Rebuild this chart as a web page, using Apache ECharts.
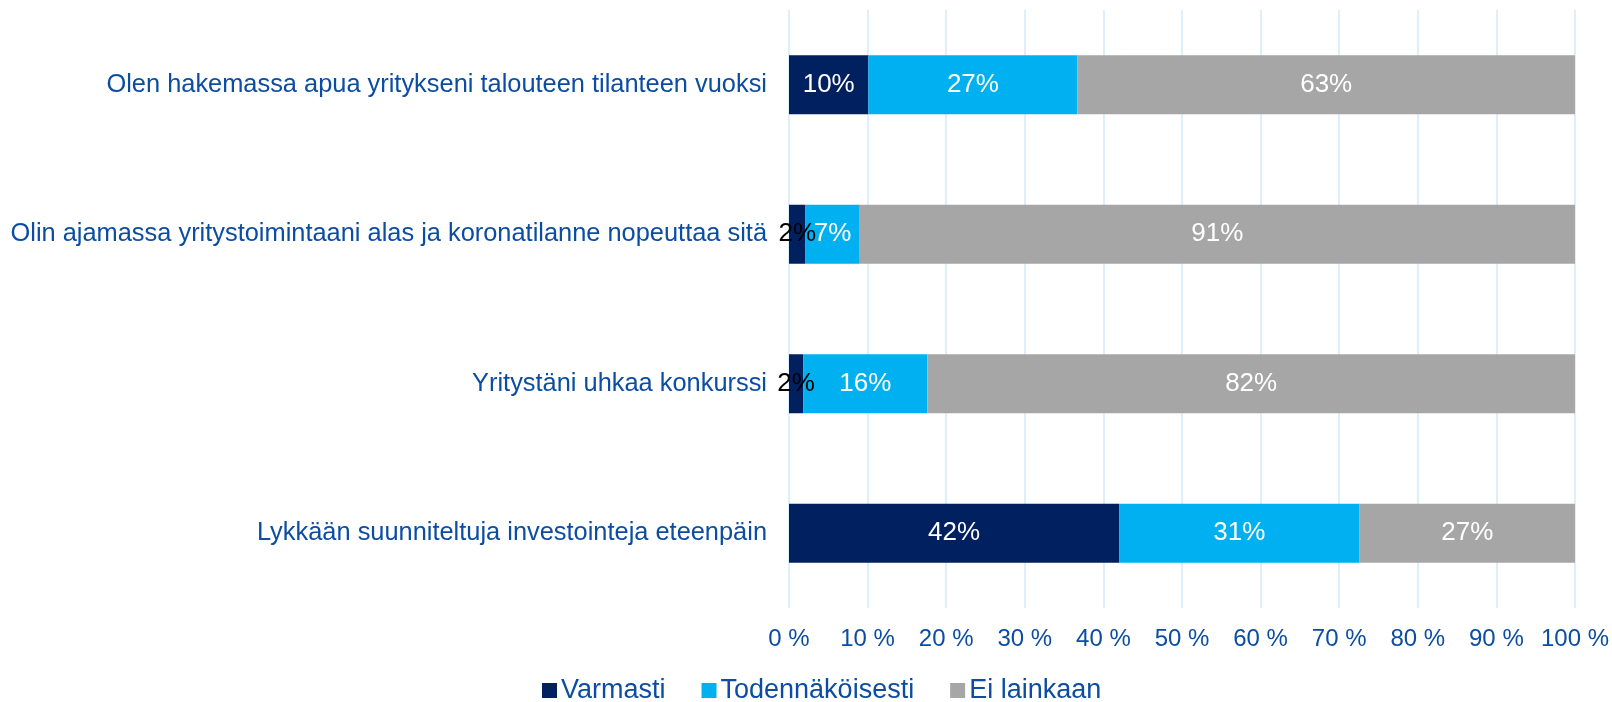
<!DOCTYPE html>
<html>
<head>
    <meta charset="utf-8">
    <title>ECharts</title>
    <script src="https://cdnjs.cloudflare.com/ajax/libs/echarts/6.0.0/echarts.min.js"></script>
    <style>
        html, body { margin: 0; padding: 0; background: #fff; }
    </style>
</head>
<body>
<div id="main" style="width: 1612px;height:702px;"></div>
<script type="text/javascript">
    // categories, top to bottom
    var categories = [
        'Olen hakemassa apua yritykseni talouteen tilanteen vuoksi',
        'Olin ajamassa yritystoimintaani alas ja koronatilanne nopeuttaa sitä',
        'Yritystäni uhkaa konkurssi',
        'Lykkään suunniteltuja investointeja eteenpäin'
    ];
    var seriesNames = ['Varmasti', 'Todennäköisesti', 'Ei lainkaan'];
    var varmasti = [10.1, 2.1, 1.8, 42.0];
    var todennakoisesti = [26.6, 6.9, 15.8, 30.6];
    var eiLainkaan = [63.3, 91.0, 82.4, 27.4];
    var xTicks = [0, 10, 20, 30, 40, 50, 60, 70, 80, 90, 100];

    var colors = ['#002060', '#00B0F0', '#A6A6A6'];
    var textBlue = '#0B4DA2';
    var font = 'Liberation Sans, Arial, sans-serif';

    function makeData(values) {
        return values.map(function (v) {
            return {
                value: v,
                label: { color: v < 5 ? '#000000' : '#ffffff' }
            };
        });
    }

    function makeSeries(name, values, color) {
        return {
            name: name,
            type: 'bar',
            stack: 'total',
            barWidth: 59,
            itemStyle: { color: color },
            label: {
                show: true,
                position: 'inside',
                fontFamily: font,
                fontSize: 26,
                formatter: function (p) { return Math.round(p.value) + '%'; }
            },
            data: makeData(values)
        };
    }

    var myChart = echarts.init(document.getElementById('main'));

    var option = {
        animation: false,
        textStyle: { fontFamily: font },
        legend: {
            data: seriesNames,
            top: 677,
            left: 542,
            padding: 0,
            itemWidth: 15,
            itemHeight: 15,
            itemGap: 36,
            icon: 'rect',
            textStyle: { color: textBlue, fontSize: 27, fontFamily: font, padding: [0, 0, 0, -1] }
        },
        grid: {
            left: 789,
            right: 37,
            top: 10,
            bottom: 94,
            containLabel: false
        },
        xAxis: {
            type: 'value',
            min: xTicks[0],
            max: xTicks[xTicks.length - 1],
            interval: 10,
            axisLine: { show: false },
            axisTick: { show: false },
            splitLine: { lineStyle: { color: '#DCEFFA', width: 2 } },
            axisLabel: {
                color: textBlue,
                fontSize: 24,
                fontFamily: font,
                margin: 19,
                formatter: '{value} %'
            }
        },
        yAxis: {
            type: 'category',
            inverse: true,
            data: categories,
            axisLine: { show: false },
            axisTick: { show: false },
            axisLabel: {
                color: textBlue,
                fontSize: 25.4,
                fontFamily: font,
                margin: 22
            }
        },
        series: [
            makeSeries(seriesNames[0], varmasti, colors[0]),
            makeSeries(seriesNames[1], todennakoisesti, colors[1]),
            makeSeries(seriesNames[2], eiLainkaan, colors[2])
        ]
    };

    myChart.setOption(option);
</script>
</body>
</html>
